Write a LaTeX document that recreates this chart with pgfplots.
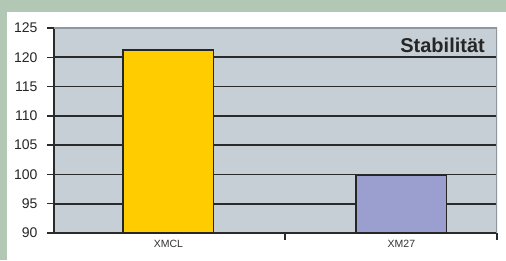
\documentclass[border=0pt]{standalone}
\usepackage{pgfplots}
\pgfplotsset{compat=1.18}
\usepackage{fontspec}
\setmainfont{Liberation Sans}
\definecolor{outergreen}{HTML}{B2C8B5}
\definecolor{plotbg}{HTML}{C6CED6}
\definecolor{baryellow}{HTML}{FFCC00}
\definecolor{barblue}{HTML}{9A9FCF}
\definecolor{gridc}{HTML}{2A2A2A}
\definecolor{framec}{HTML}{8E979E}
\begin{document}
\begin{tikzpicture}
\useasboundingbox (0,0) rectangle (506pt,260pt);
\fill[outergreen] (0,0) rectangle (506pt,260pt);
\fill[white] (7pt,0) rectangle (506pt,248pt);
\begin{axis}[
  at={(54pt,27pt)}, anchor=south west,
  scale only axis, width=443pt, height=205pt,
  xmin=-0.491, xmax=1.41,
  ymin=90, ymax=125,
  ytick={90,95,...,125},
  xtick={0.5,1.41}, xticklabels={},
  extra x ticks={0,1},
  extra x tick labels={XMCL,XM27},
  extra x tick style={major tick length=0pt, grid=none},
  x tick label style={font=\fontsize{10.5}{12}\selectfont, text=black!80, yshift=-4pt},
  y tick label style={font=\fontsize{14}{16}\selectfont, text=black!85, xshift=-6pt},
  /pgf/number format/assume math mode=true,
  tick align=outside,
  major tick length=7pt,
  tick style={gridc, line width=1.5pt},
  ymajorgrids,
  major grid style={gridc, line width=1.6pt},
  axis background/.style={fill=plotbg},
  axis line style={framec, line width=1.5pt},
  separate axis lines,
  x axis line style={gridc},
  y axis line style={gridc},
  axis x line*=bottom, axis y line*=left,
  bar width=0.39,
  ybar, bar shift=0pt,
  clip=true,
]
\addplot[fill=baryellow, draw=black!85, line width=1.1pt] coordinates {(0,121.25)};
\addplot[fill=barblue, draw=black!85, line width=1.1pt] coordinates {(1,99.8)};
\draw[framec, line width=1.5pt] (rel axis cs:0,1) -- (rel axis cs:1,1) -- (rel axis cs:1,0);
\node[anchor=north east, inner sep=0pt, font=\fontsize{20}{22}\selectfont\bfseries, text=black!85]
  at (rel axis cs:1,1) [xshift=-12pt, yshift=-10pt] {Stabilität};
\end{axis}
\end{tikzpicture}
\end{document}
